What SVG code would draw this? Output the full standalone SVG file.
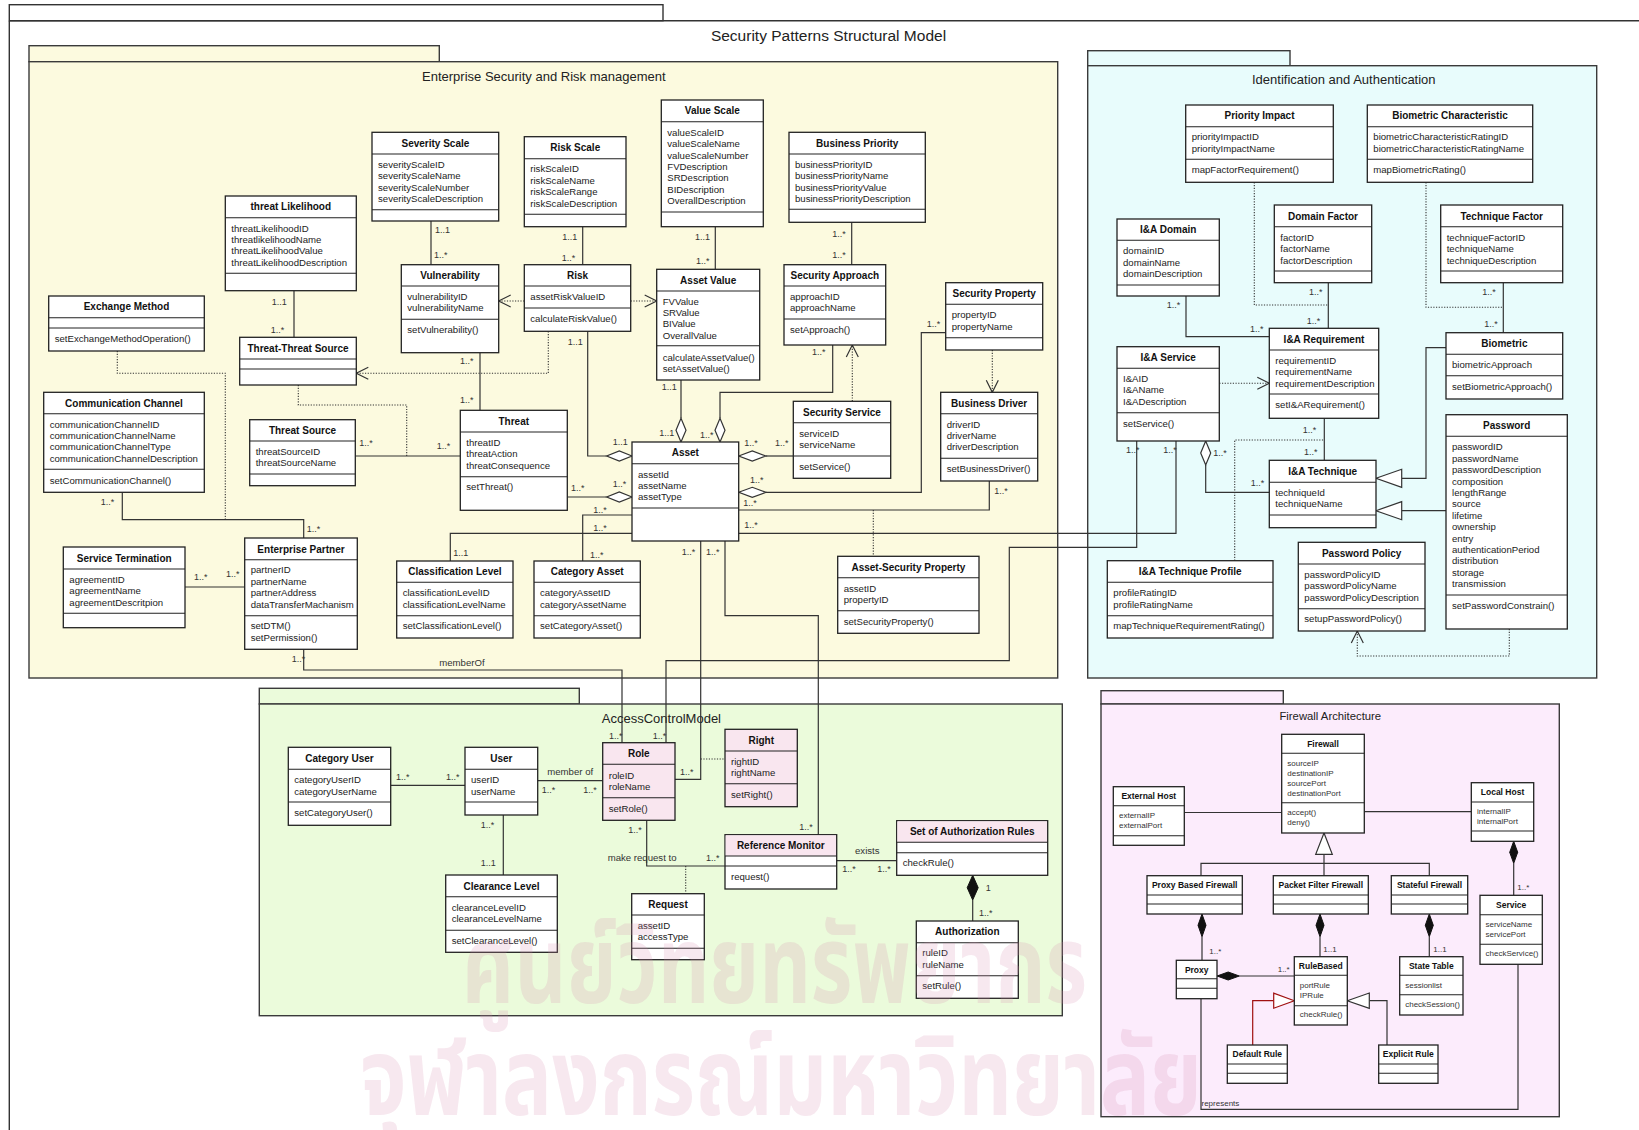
<svg xmlns="http://www.w3.org/2000/svg" width="1639" height="1130" viewBox="0 0 1639 1130">
<defs>
<style>
.frame{fill:none;stroke:#333;stroke-width:1.4}
.pkg{stroke:#3a3a3a;stroke-width:1.4}
.y{fill:#fcfadf}.cy{fill:#e8fcfc}.g{fill:#ebfbdb}.p{fill:#fcecfc}
.box{fill:#fff;stroke:#222;stroke-width:1.3}
.pk{fill:#f9e6ef}
.sep{fill:none;stroke:#222;stroke-width:1.1}
.title{font-family:"Liberation Sans",Arial,sans-serif;font-size:15.5px;fill:#222;text-anchor:middle}
.pt{font-family:"Liberation Sans",Arial,sans-serif;font-size:13px;fill:#222;text-anchor:middle}
.t{font-family:"Liberation Sans",Arial,sans-serif;font-size:10px;font-weight:bold;fill:#111;text-anchor:middle}
.a{font-family:"Liberation Sans",Arial,sans-serif;font-size:9.6px;fill:#222}
.m{font-family:"Liberation Sans",Arial,sans-serif;font-size:9px;fill:#333}
.ft{font-family:"Liberation Sans",Arial,sans-serif;font-size:8.5px;font-weight:bold;fill:#111;text-anchor:middle}
.fa{font-family:"Liberation Sans",Arial,sans-serif;font-size:8px;fill:#333}
.c{fill:none;stroke:#333;stroke-width:1.2}
.d{fill:none;stroke:#333;stroke-width:1.1;stroke-dasharray:1.2 1.5}
.hd{fill:#fff;stroke:#333;stroke-width:1.2}
.fd{fill:#111;stroke:#111;stroke-width:1}
.tri{fill:#fff;stroke:#333;stroke-width:1.2}
.red{fill:none;stroke:#a01010;stroke-width:1.2}
.tri.r{stroke:#a01010}
.wm{font-family:"Noto Sans Thai","Noto Sans","DejaVu Sans",sans-serif;font-size:108px;font-weight:bold;fill:#d88ab0;fill-opacity:0.2}
</style>
<marker id="open" markerUnits="userSpaceOnUse" markerWidth="14" markerHeight="14" refX="12" refY="6" orient="auto" overflow="visible">
<path d="M0 0L12 6L0 12" fill="none" stroke="#333" stroke-width="1.2"/>
</marker>
</defs>

<rect width="1639" height="1130" fill="#fff"/>

<!-- outer frame -->
<g id="model-frame">
<rect class="frame" x="9.3" y="4.7" width="653.7" height="16" fill="#fff"/>
<path class="frame" d="M9.3 20.7V1135M9.3 20.7H1645"/>
<text class="title" x="828.5" y="40.7">Security Patterns Structural Model</text>
</g>

<!-- packages -->
<g id="pkg-esrm">
<rect class="pkg y" x="29" y="45.7" width="410.3" height="16"/>
<rect class="pkg y" x="29" y="61.7" width="1028.7" height="616.3"/>
<text class="pt" x="543.8" y="80.7">Enterprise Security and Risk management</text>
</g>
<g id="pkg-ia">
<rect class="pkg cy" x="1087.7" y="50.7" width="202.3" height="15"/>
<rect class="pkg cy" x="1087.7" y="65.7" width="509" height="612.3"/>
<text class="pt" x="1343.8" y="84.4">Identification and Authentication</text>
</g>
<g id="pkg-ac">
<rect class="pkg g" x="259.3" y="688.3" width="320" height="15.7"/>
<rect class="pkg g" x="259.3" y="704" width="803" height="311.7"/>
<text class="pt" x="661.4" y="723.3">AccessControlModel</text>
</g>
<g id="pkg-fw">
<rect class="pkg p" x="1101" y="690.7" width="182.3" height="13.3"/>
<rect class="pkg p" x="1101" y="704" width="458.3" height="412.7"/>
<text class="pt" x="1330.3" y="720" style="font-size:11.3px">Firewall Architecture</text>
</g>

<!-- connectors -->
<g id="connectors">
<!-- enterprise security and risk management -->
<path class="c" d="M294 290.7V337.3"/>
<path class="c" d="M431 221V264.7"/>
<path class="c" d="M582.7 226.7V264.7"/>
<path class="c" d="M715.3 226.7V269.3"/>
<path class="c" d="M851.7 222.3V264.7"/>
<path class="d" d="M524.3 301H498.7" marker-end="url(#open)"/>
<path class="d" d="M630.7 301H656.7" marker-end="url(#open)"/>
<path class="d" d="M548.3 331.3V373.3H356.3" marker-end="url(#open)"/>
<path class="c" d="M587.7 331.3V456H606.7"/>
<polygon class="hd" points="632,456 619.3,451 606.7,456 619.3,461"/>
<path class="c" d="M480 352.7V410.3"/>
<path class="d" d="M298.3 385V405H406.7V456"/>
<path class="c" d="M355.3 456H460.3"/>
<path class="c" d="M567.3 497H606.7"/>
<polygon class="hd" points="632,497 619.3,492 606.7,497 619.3,502"/>
<path class="c" d="M681 380V418.3"/>
<polygon class="hd" points="681,442 676,430.2 681,418.3 686,430.2"/>
<path class="c" d="M832.7 345V392.3H720V418.3"/>
<polygon class="hd" points="720,442 715,430.2 720,418.3 725,430.2"/>
<path class="d" d="M852.3 401.3V345" marker-end="url(#open)"/>
<path class="c" d="M766 456H793.3"/>
<polygon class="hd" points="738.7,456 752.3,451 766,456 752.3,461"/>
<path class="c" d="M766 492.3H921.3V332.7H945.7"/>
<polygon class="hd" points="738.7,492.3 752.3,487.3 766,492.3 752.3,497.3"/>
<path class="c" d="M738.7 510H989.3V481"/>
<path class="d" d="M992.3 350V392.3" marker-end="url(#open)"/>
<path class="d" d="M873.3 510V556.3"/>
<path class="c" d="M738.7 533.3H1176V441"/>
<path class="c" d="M1136.7 441V547.3H1009.3V660.7H666V742.7"/>
<path class="c" d="M700.7 541V779.3H675"/>
<path class="c" d="M725 541V615.7H818.3V834.7"/>
<path class="d" d="M700.7 759H725"/>
<path class="c" d="M303.7 649.3V670H622V742.7"/>
<path class="c" d="M122.3 492.3V519.7H303.7V538"/>
<path class="d" d="M117.3 351V373.3H225.3V519.7"/>
<path class="c" d="M185 587H244.7"/>
<path class="c" d="M632 533.3H450.3V561"/>
<path class="c" d="M632 515H582.7V561"/>
<!-- access control -->
<path class="c" d="M390.7 785.3H465"/>
<path class="c" d="M537.7 780.7H602.7"/>
<path class="c" d="M503.3 815V875"/>
<path class="c" d="M646.7 820.3V866H725"/>
<path class="d" d="M685.7 866V893.7"/>
<path class="c" d="M836.7 860.7H896.7"/>
<path class="c" d="M972.7 900V921"/>
<polygon class="fd" points="972.7,875.3 967.2,887.7 972.7,900 978.2,887.7"/>
<!-- identification and authentication -->
<path class="d" d="M1254.3 182.3V305H1328.3"/>
<path class="d" d="M1426 182.3V307.3H1503.3"/>
<path class="c" d="M1328.3 282.7V328.3"/>
<path class="c" d="M1503.3 282.7V332.7"/>
<path class="c" d="M1186 296V336.7H1269.3"/>
<path class="d" d="M1219.3 383.3H1269.3" marker-end="url(#open)"/>
<path class="c" d="M1324.3 418.3V460.3"/>
<path class="d" d="M1234.7 560.7V440H1324.3"/>
<path class="c" d="M1205.7 465V492.3H1269.3"/>
<polygon class="hd" points="1205.7,441 1200.7,453 1205.7,465 1210.7,453"/>
<path class="c" d="M1446 347.7H1426V478.3H1401.7"/>
<polygon class="tri" points="1376,478.3 1401.7,469.3 1401.7,487.3"/>
<path class="c" d="M1446 510.7H1401.7"/>
<polygon class="tri" points="1376,510.7 1401.7,501.7 1401.7,519.7"/>
<path class="d" d="M1509.3 629V656H1357.3V631" marker-end="url(#open)"/>
<!-- firewall architecture -->
<path class="c" d="M1184.3 812.5H1281.7"/>
<path class="c" d="M1364.3 811.7H1471.3"/>
<polygon class="tri" points="1324,833 1315.7,854.3 1332.3,854.3"/>
<path class="c" d="M1324 854.3V875.7M1201 875.7V863.3H1429.3V875.7"/>
<path class="c" d="M1202 936.7V960.3"/>
<polygon class="fd" points="1202,914 1198,925.3 1202,936.7 1206,925.3"/>
<path class="c" d="M1320 936.7V956.7"/>
<polygon class="fd" points="1320,914 1316,925.3 1320,936.7 1324,925.3"/>
<path class="c" d="M1429.3 936.7V956.7"/>
<polygon class="fd" points="1429.3,914 1425.3,925.3 1429.3,936.7 1433.3,925.3"/>
<path class="c" d="M1239.3 976H1294.3"/>
<polygon class="fd" points="1217,976 1228.2,972 1239.3,976 1228.2,980"/>
<path class="c" d="M1513.7 863.3V895.3"/>
<polygon class="fd" points="1513.7,841.3 1509.7,852.3 1513.7,863.3 1517.7,852.3"/>
<path class="c" d="M1518 964.3V1109.3H1201V998.7"/>
<path class="red" d="M1252.7 1045V1000.7H1273.7"/>
<polygon class="tri r" points="1294.3,1000.7 1273.7,993.2 1273.7,1008.2"/>
<path class="c" d="M1387 1045V1000.7H1369.3"/>
<polygon class="tri" points="1347.3,1000.7 1369.3,993 1369.3,1008.4"/>

<!-- multiplicities and role names -->
<text class="m" x="271.7" y="305">1..1</text>
<text class="m" x="270.7" y="333">1..*</text>
<text class="m" x="435" y="233">1..1</text>
<text class="m" x="434" y="258">1..*</text>
<text class="m" x="562.3" y="239.7">1..1</text>
<text class="m" x="561.7" y="260.7">1..*</text>
<text class="m" x="695" y="239.7">1..1</text>
<text class="m" x="696" y="263.7">1..*</text>
<text class="m" x="832.3" y="237.3">1..*</text>
<text class="m" x="832.3" y="258">1..*</text>
<text class="m" x="567.7" y="345.3">1..1</text>
<text class="m" x="612.7" y="444.7">1..1</text>
<text class="m" x="460" y="364">1..*</text>
<text class="m" x="460" y="403">1..*</text>
<text class="m" x="359.3" y="446.3">1..*</text>
<text class="m" x="436.7" y="449">1..*</text>
<text class="m" x="571" y="491.3">1..*</text>
<text class="m" x="612.7" y="487">1..*</text>
<text class="m" x="661.7" y="390.3">1..1</text>
<text class="m" x="659.3" y="435.7">1..1</text>
<text class="m" x="812" y="355">1..*</text>
<text class="m" x="700" y="438">1..*</text>
<text class="m" x="744.3" y="446.3">1..*</text>
<text class="m" x="775" y="446.3">1..*</text>
<text class="m" x="750" y="483">1..*</text>
<text class="m" x="926.7" y="327">1..*</text>
<text class="m" x="743.3" y="505.7">1..*</text>
<text class="m" x="994.3" y="493.7">1..*</text>
<text class="m" x="744.3" y="528">1..*</text>
<text class="m" x="1163.3" y="453">1..*</text>
<text class="m" x="1126" y="453">1..*</text>
<text class="m" x="652.7" y="738.7">1..*</text>
<text class="m" x="681.7" y="554.7">1..*</text>
<text class="m" x="706" y="554.7">1..*</text>
<text class="m" x="680" y="774.7">1..*</text>
<text class="m" x="799.3" y="829.7">1..*</text>
<text class="m" x="291.7" y="661.7">1..*</text>
<text class="m" x="439.3" y="665.7" style="font-size:9.6px">memberOf</text>
<text class="m" x="609" y="738.7">1..*</text>
<text class="m" x="100.7" y="505">1..*</text>
<text class="m" x="306.7" y="532">1..*</text>
<text class="m" x="194" y="579.7">1..*</text>
<text class="m" x="226" y="577">1..*</text>
<text class="m" x="593.3" y="531.3">1..*</text>
<text class="m" x="453.3" y="555.7">1..1</text>
<text class="m" x="593.3" y="513">1..*</text>
<text class="m" x="590" y="558">1..*</text>
<text class="m" x="396" y="779.7">1..*</text>
<text class="m" x="446" y="779.7">1..*</text>
<text class="m" x="547.3" y="775.2" style="font-size:9.6px">member of</text>
<text class="m" x="541.7" y="793">1..*</text>
<text class="m" x="583.3" y="793">1..*</text>
<text class="m" x="480.7" y="828">1..*</text>
<text class="m" x="480.7" y="865.7">1..1</text>
<text class="m" x="628.3" y="833">1..*</text>
<text class="m" x="607.7" y="861" style="font-size:9.6px">make request to</text>
<text class="m" x="706" y="860.7">1..*</text>
<text class="m" x="855" y="854" style="font-size:9.6px">exists</text>
<text class="m" x="842.3" y="872.3">1..*</text>
<text class="m" x="877.3" y="872.3">1..*</text>
<text class="m" x="985.7" y="890.7">1</text>
<text class="m" x="979" y="916.3">1..*</text>
<text class="m" x="1309" y="295">1..*</text>
<text class="m" x="1306.7" y="324">1..*</text>
<text class="m" x="1482.3" y="295">1..*</text>
<text class="m" x="1484.3" y="327">1..*</text>
<text class="m" x="1166.7" y="308">1..*</text>
<text class="m" x="1250" y="332">1..*</text>
<text class="m" x="1302.7" y="433">1..*</text>
<text class="m" x="1304" y="454.7">1..*</text>
<text class="m" x="1213.3" y="456.3">1..*</text>
<text class="m" x="1250.7" y="486.3">1..*</text>
<text class="fa" x="1209.3" y="953.5">1..*</text>
<text class="fa" x="1323.3" y="951.8">1..1</text>
<text class="fa" x="1433.3" y="951.8">1..1</text>
<text class="fa" x="1277.7" y="971.5">1..*</text>
<text class="fa" x="1517.3" y="889.5">1..*</text>
<text class="fa" x="1201.5" y="1105.5">represents</text>
</g>

<!-- Enterprise Security and Risk management classes -->
<g id="threat-likelihood"><rect class="box" x="225.3" y="196" width="131" height="94.7"/><path class="sep" d="M225.3 217.7H356.3M225.3 273.3H356.3"/><text class="t" x="290.8" y="210.2">threat Likelihood</text><text class="a" x="231.3" y="232.1">threatLikelihoodID</text><text class="a" x="231.3" y="243.4">threatlikelihoodName</text><text class="a" x="231.3" y="254.1">threatLikelihoodValue</text><text class="a" x="231.3" y="266.1">threatLikelihoodDescription</text></g>
<g id="severity-scale"><rect class="box" x="372" y="132.3" width="126.7" height="88.7"/><path class="sep" d="M372 154H498.7M372 209.7H498.7"/><text class="t" x="435.4" y="146.5">Severity Scale</text><text class="a" x="378" y="167.7">severityScaleID</text><text class="a" x="378" y="179.1">severityScaleName</text><text class="a" x="378" y="190.7">severityScaleNumber</text><text class="a" x="378" y="202.1">severityScaleDescription</text></g>
<g id="risk-scale"><rect class="box" x="524.3" y="136.7" width="101.7" height="90"/><path class="sep" d="M524.3 158.7H626M524.3 214.3H626"/><text class="t" x="575.2" y="151.2">Risk Scale</text><text class="a" x="530.3" y="172.1">riskScaleID</text><text class="a" x="530.3" y="183.7">riskScaleName</text><text class="a" x="530.3" y="195.4">riskScaleRange</text><text class="a" x="530.3" y="207.1">riskScaleDescription</text></g>
<g id="value-scale"><rect class="box" x="661.3" y="100" width="102" height="126.7"/><path class="sep" d="M661.3 121.7H763.3M661.3 212H763.3"/><text class="t" x="712.3" y="114.2">Value Scale</text><text class="a" x="667.3" y="136.1">valueScaleID</text><text class="a" x="667.3" y="147.4">valueScaleName</text><text class="a" x="667.3" y="159.1">valueScaleNumber</text><text class="a" x="667.3" y="170.1">FVDescription</text><text class="a" x="667.3" y="181.4">SRDescription</text><text class="a" x="667.3" y="193.1">BIDescription</text><text class="a" x="667.3" y="204.1">OverallDescription</text></g>
<g id="business-priority"><rect class="box" x="789" y="132.3" width="136.3" height="90"/><path class="sep" d="M789 154H925.3M789 209.3H925.3"/><text class="t" x="857.2" y="146.5">Business Priority</text><text class="a" x="795" y="168.1">businessPriorityID</text><text class="a" x="795" y="179.4">businessPriorityName</text><text class="a" x="795" y="191.1">businessPriorityValue</text><text class="a" x="795" y="202.1">businessPriorityDescription</text></g>
<g id="exchange-method"><rect class="box" x="48.7" y="296" width="155.6" height="55"/><path class="sep" d="M48.7 317.7H204.3M48.7 328H204.3"/><text class="t" x="126.5" y="310.2">Exchange Method</text><text class="a" x="54.7" y="342.4">setExchangeMethodOperation()</text></g>
<g id="threat-threat-source"><rect class="box" x="239.7" y="337.3" width="116.6" height="47.7"/><path class="sep" d="M239.7 359H356.3M239.7 369H356.3"/><text class="t" x="298" y="351.5">Threat-Threat Source</text></g>
<g id="vulnerability"><rect class="box" x="401.3" y="264.7" width="97.4" height="88"/><path class="sep" d="M401.3 286H498.7M401.3 319.3H498.7"/><text class="t" x="450" y="278.5">Vulnerability</text><text class="a" x="407.3" y="300.1">vulnerabilityID</text><text class="a" x="407.3" y="311.1">vulnerabilityName</text><text class="a" x="407.3" y="333.1">setVulnerability()</text></g>
<g id="risk"><rect class="box" x="524.3" y="264.7" width="106.4" height="66.6"/><path class="sep" d="M524.3 286H630.7M524.3 308H630.7"/><text class="t" x="577.5" y="278.5">Risk</text><text class="a" x="530.3" y="300.1">assetRiskValueID</text><text class="a" x="530.3" y="322.4">calculateRiskValue()</text></g>
<g id="asset-value"><rect class="box" x="656.7" y="269.3" width="103" height="110.7"/><path class="sep" d="M656.7 291H759.7M656.7 345.7H759.7"/><text class="t" x="708.2" y="283.5">Asset Value</text><text class="a" x="662.7" y="305.1">FVValue</text><text class="a" x="662.7" y="316.4">SRValue</text><text class="a" x="662.7" y="327.4">BIValue</text><text class="a" x="662.7" y="338.7">OverallValue</text><text class="a" x="662.7" y="360.7">calculateAssetValue()</text><text class="a" x="662.7" y="372.1">setAssetValue()</text></g>
<g id="security-approach"><rect class="box" x="784" y="264.7" width="101.7" height="80.3"/><path class="sep" d="M784 286H885.7M784 319H885.7"/><text class="t" x="834.8" y="278.5">Security Approach</text><text class="a" x="790" y="300.1">approachID</text><text class="a" x="790" y="311.1">approachName</text><text class="a" x="790" y="333.1">setApproach()</text></g>
<g id="security-property"><rect class="box" x="945.7" y="282.7" width="97" height="67.3"/><path class="sep" d="M945.7 304.3H1042.7M945.7 337.7H1042.7"/><text class="t" x="994.2" y="297.2">Security Property</text><text class="a" x="951.7" y="318.4">propertyID</text><text class="a" x="951.7" y="330.4">propertyName</text></g>
<g id="communication-channel"><rect class="box" x="43.7" y="392.3" width="160.6" height="100"/><path class="sep" d="M43.7 413.7H204.3M43.7 469.3H204.3"/><text class="t" x="124" y="406.5">Communication Channel</text><text class="a" x="49.7" y="428.1">communicationChannelID</text><text class="a" x="49.7" y="439.1">communicationChannelName</text><text class="a" x="49.7" y="450.4">communicationChannelType</text><text class="a" x="49.7" y="462.1">communicationChannelDescription</text><text class="a" x="49.7" y="484.1">setCommunicationChannel()</text></g>
<g id="threat-source"><rect class="box" x="249.7" y="419.7" width="105.6" height="66"/><path class="sep" d="M249.7 441H355.3M249.7 474H355.3"/><text class="t" x="302.5" y="433.5">Threat Source</text><text class="a" x="255.7" y="455.1">threatSourceID</text><text class="a" x="255.7" y="466.1">threatSourceName</text></g>
<g id="threat"><rect class="box" x="460.3" y="410.3" width="107" height="100"/><path class="sep" d="M460.3 432H567.3M460.3 476.7H567.3"/><text class="t" x="513.8" y="424.5">Threat</text><text class="a" x="466.3" y="446.1">threatID</text><text class="a" x="466.3" y="457.4">threatAction</text><text class="a" x="466.3" y="469.4">threatConsequence</text><text class="a" x="466.3" y="490.1">setThreat()</text></g>
<g id="asset"><rect class="box" x="632" y="442" width="106.7" height="99"/><path class="sep" d="M632 463.7H738.7M632 508H738.7"/><text class="t" x="685.3" y="456.2">Asset</text><text class="a" x="638" y="478.1">assetId</text><text class="a" x="638" y="489.1">assetName</text><text class="a" x="638" y="500.4">assetType</text></g>
<g id="security-service"><rect class="box" x="793.3" y="401.3" width="97.4" height="77"/><path class="sep" d="M793.3 422.7H890.7M793.3 456H890.7"/><text class="t" x="842" y="415.5">Security Service</text><text class="a" x="799.3" y="436.7">serviceID</text><text class="a" x="799.3" y="448.4">serviceName</text><text class="a" x="799.3" y="470.4">setService()</text></g>
<g id="business-driver"><rect class="box" x="940.7" y="392.3" width="97" height="88.7"/><path class="sep" d="M940.7 413.7H1037.7M940.7 458.3H1037.7"/><text class="t" x="989.2" y="406.5">Business Driver</text><text class="a" x="946.7" y="427.7">driverID</text><text class="a" x="946.7" y="439.1">driverName</text><text class="a" x="946.7" y="450.1">driverDescription</text><text class="a" x="946.7" y="472.4">setBusinessDriver()</text></g>
<g id="service-termination"><rect class="box" x="63.3" y="547" width="121.7" height="80.7"/><path class="sep" d="M63.3 569H185M63.3 613.3H185"/><text class="t" x="124.2" y="561.5">Service Termination</text><text class="a" x="69.3" y="583.4">agreementID</text><text class="a" x="69.3" y="594.4">agreementName</text><text class="a" x="69.3" y="605.7">agreementDescritpion</text></g>
<g id="enterprise-partner"><rect class="box" x="244.7" y="538" width="112.6" height="111.3"/><path class="sep" d="M244.7 559.7H357.3M244.7 615.7H357.3"/><text class="t" x="301" y="552.5">Enterprise Partner</text><text class="a" x="250.7" y="573.4">partnerID</text><text class="a" x="250.7" y="585.4">partnerName</text><text class="a" x="250.7" y="596.4">partnerAddress</text><text class="a" x="250.7" y="608.1">dataTransferMachanism</text><text class="a" x="250.7" y="629.4">setDTM()</text><text class="a" x="250.7" y="641.1">setPermission()</text></g>
<g id="classification-level"><rect class="box" x="396.7" y="561" width="116.3" height="77"/><path class="sep" d="M396.7 582.3H513M396.7 615.7H513"/><text class="t" x="454.9" y="575.2">Classification Level</text><text class="a" x="402.7" y="596.1">classificationLevelID</text><text class="a" x="402.7" y="608.1">classificationLevelName</text><text class="a" x="402.7" y="629.4">setClassificationLevel()</text></g>
<g id="category-asset"><rect class="box" x="534" y="561" width="106.3" height="77"/><path class="sep" d="M534 582.3H640.3M534 615.7H640.3"/><text class="t" x="587.2" y="575.2">Category Asset</text><text class="a" x="540" y="596.1">categoryAssetID</text><text class="a" x="540" y="608.1">categoryAssetName</text><text class="a" x="540" y="629.4">setCategoryAsset()</text></g>
<g id="asset-security-property"><rect class="box" x="837.7" y="556.3" width="141.3" height="77"/><path class="sep" d="M837.7 577.7H979M837.7 610.7H979"/><text class="t" x="908.4" y="570.5">Asset-Security Property</text><text class="a" x="843.7" y="592.1">assetID</text><text class="a" x="843.7" y="603.4">propertyID</text><text class="a" x="843.7" y="625.4">setSecurityProperty()</text></g>

<!-- Identification and Authentication classes -->
<g id="priority-impact"><rect class="box" x="1185.7" y="105" width="147.6" height="77.3"/><path class="sep" d="M1185.7 126.7H1333.3M1185.7 159.3H1333.3"/><text class="t" x="1259.5" y="119.2">Priority Impact</text><text class="a" x="1191.7" y="140.1">priorityImpactID</text><text class="a" x="1191.7" y="152.4">priorityImpactName</text><text class="a" x="1191.7" y="173.4">mapFactorRequirement()</text></g>
<g id="biometric-characteristic"><rect class="box" x="1367.3" y="105" width="165.4" height="77.3"/><path class="sep" d="M1367.3 126.7H1532.7M1367.3 159.3H1532.7"/><text class="t" x="1450" y="119.2">Biometric Characteristic</text><text class="a" x="1373.3" y="140.1">biometricCharacteristicRatingID</text><text class="a" x="1373.3" y="152.4">biometricCharacteristicRatingName</text><text class="a" x="1373.3" y="173.4">mapBiometricRating()</text></g>
<g id="ia-domain"><rect class="box" x="1117" y="219" width="102.3" height="77"/><path class="sep" d="M1117 240.3H1219.3M1117 285H1219.3"/><text class="t" x="1168.2" y="233.2">I&amp;A Domain</text><text class="a" x="1123" y="254.1">domainID</text><text class="a" x="1123" y="266.1">domainName</text><text class="a" x="1123" y="277.4">domainDescription</text></g>
<g id="domain-factor"><rect class="box" x="1274.3" y="205" width="97.4" height="77.7"/><path class="sep" d="M1274.3 226.7H1371.7M1274.3 271H1371.7"/><text class="t" x="1323" y="219.5">Domain Factor</text><text class="a" x="1280.3" y="241.1">factorID</text><text class="a" x="1280.3" y="252.1">factorName</text><text class="a" x="1280.3" y="264.1">factorDescription</text></g>
<g id="technique-factor"><rect class="box" x="1440.7" y="205" width="122" height="77.7"/><path class="sep" d="M1440.7 226.7H1562.7M1440.7 271H1562.7"/><text class="t" x="1501.7" y="219.5">Technique Factor</text><text class="a" x="1446.7" y="241.1">techniqueFactorID</text><text class="a" x="1446.7" y="252.1">techniqueName</text><text class="a" x="1446.7" y="264.1">techniqueDescription</text></g>
<g id="ia-service"><rect class="box" x="1117" y="346.7" width="102.3" height="94.3"/><path class="sep" d="M1117 368.3H1219.3M1117 412.7H1219.3"/><text class="t" x="1168.2" y="360.5">I&amp;A Service</text><text class="a" x="1123" y="381.7">I&amp;AID</text><text class="a" x="1123" y="393.4">I&amp;AName</text><text class="a" x="1123" y="405.1">I&amp;ADescription</text><text class="a" x="1123" y="427.4">setService()</text></g>
<g id="ia-requirement"><rect class="box" x="1269.3" y="328.3" width="109.4" height="90"/><path class="sep" d="M1269.3 350H1378.7M1269.3 394H1378.7"/><text class="t" x="1324" y="342.5">I&amp;A Requirement</text><text class="a" x="1275.3" y="364.1">requirementID</text><text class="a" x="1275.3" y="375.1">requirementName</text><text class="a" x="1275.3" y="387.1">requirementDescription</text><text class="a" x="1275.3" y="408.1">setI&amp;ARequirement()</text></g>
<g id="biometric"><rect class="box" x="1446" y="332.7" width="116.7" height="66.3"/><path class="sep" d="M1446 354.3H1562.7M1446 375.7H1562.7"/><text class="t" x="1504.4" y="347">Biometric</text><text class="a" x="1452" y="368.4">biometricApproach</text><text class="a" x="1452" y="390.1">setBiometricApproach()</text></g>
<g id="ia-technique"><rect class="box" x="1269.3" y="460.3" width="106.7" height="67.4"/><path class="sep" d="M1269.3 482.3H1376M1269.3 515H1376"/><text class="t" x="1322.7" y="474.5">I&amp;A Technique</text><text class="a" x="1275.3" y="496.1">techniqueId</text><text class="a" x="1275.3" y="507.4">techniqueName</text></g>
<g id="password"><rect class="box" x="1446" y="414.7" width="121.3" height="214.3"/><path class="sep" d="M1446 436.3H1567.3M1446 595H1567.3"/><text class="t" x="1506.7" y="429.2">Password</text><text class="a" x="1452" y="450.1">passwordID</text><text class="a" x="1452" y="462.1">passwordName</text><text class="a" x="1452" y="473.4">passwordDescription</text><text class="a" x="1452" y="485.1">composition</text><text class="a" x="1452" y="496.4">lengthRange</text><text class="a" x="1452" y="507.4">source</text><text class="a" x="1452" y="519.1">lifetime</text><text class="a" x="1452" y="530.4">ownership</text><text class="a" x="1452" y="542.4">entry</text><text class="a" x="1452" y="553.4">authenticationPeriod</text><text class="a" x="1452" y="564.4">distribution</text><text class="a" x="1452" y="576.4">storage</text><text class="a" x="1452" y="587.4">transmission</text><text class="a" x="1452" y="609.4">setPasswordConstrain()</text></g>
<g id="ia-technique-profile"><rect class="box" x="1107.3" y="560.7" width="165.7" height="77.3"/><path class="sep" d="M1107.3 582.3H1273M1107.3 615.7H1273"/><text class="t" x="1190.2" y="575.2">I&amp;A Technique Profile</text><text class="a" x="1113.3" y="596.1">profileRatingID</text><text class="a" x="1113.3" y="608.1">profileRatingName</text><text class="a" x="1113.3" y="629.4">mapTechniqueRequirementRating()</text></g>
<g id="password-policy"><rect class="box" x="1298.3" y="542.3" width="126.7" height="88.7"/><path class="sep" d="M1298.3 564H1425M1298.3 608.7H1425"/><text class="t" x="1361.7" y="556.5">Password Policy</text><text class="a" x="1304.3" y="578.1">passwordPolicyID</text><text class="a" x="1304.3" y="589.4">passwordPolicyName</text><text class="a" x="1304.3" y="601.1">passwordPolicyDescription</text><text class="a" x="1304.3" y="622.1">setupPasswordPolicy()</text></g>

<!-- Access control classes -->
<g id="category-user"><rect class="box" x="288.3" y="747.3" width="102.4" height="78"/><path class="sep" d="M288.3 769.3H390.7M288.3 802H390.7"/><text class="t" x="339.5" y="762.2">Category User</text><text class="a" x="294.3" y="783.1">categoryUserID</text><text class="a" x="294.3" y="795.1">categoryUserName</text><text class="a" x="294.3" y="816.1">setCategoryUser()</text></g>
<g id="user"><rect class="box" x="465" y="747.3" width="72.7" height="67.7"/><path class="sep" d="M465 769.3H537.7M465 802H537.7"/><text class="t" x="501.3" y="762.2">User</text><text class="a" x="471" y="783.4">userID</text><text class="a" x="471" y="795.1">userName</text></g>
<g id="role"><rect class="box pk" x="602.7" y="742.7" width="72.3" height="77.6"/><path class="sep" d="M602.7 764.3H675M602.7 797.7H675"/><text class="t" x="638.8" y="757.2">Role</text><text class="a" x="608.7" y="779.1">roleID</text><text class="a" x="608.7" y="790.1">roleName</text><text class="a" x="608.7" y="812.4">setRole()</text></g>
<g id="right"><rect class="box pk" x="725" y="729.3" width="72.3" height="77.4"/><path class="sep" d="M725 751H797.3M725 783.7H797.3"/><text class="t" x="761.2" y="743.8">Right</text><text class="a" x="731" y="765.1">rightID</text><text class="a" x="731" y="776.1">rightName</text><text class="a" x="731" y="798.4">setRight()</text></g>
<g id="reference-monitor"><rect class="box" x="725" y="834.7" width="111.7" height="54.3"/><rect class="pk" x="725.7" y="835.3" width="110.3" height="20.7"/><path class="sep" d="M725 856H836.7M725 866H836.7"/><text class="t" x="780.8" y="848.5">Reference Monitor</text><text class="a" x="731" y="880.1">request()</text></g>
<g id="clearance-level"><rect class="box" x="445.7" y="875" width="111.6" height="77.3"/><path class="sep" d="M445.7 896.7H557.3M445.7 930.3H557.3"/><text class="t" x="501.5" y="889.5">Clearance Level</text><text class="a" x="451.7" y="911.1">clearanceLevelID</text><text class="a" x="451.7" y="922.1">clearanceLevelName</text><text class="a" x="451.7" y="944.1">setClearanceLevel()</text></g>
<g id="request"><rect class="box" x="631.7" y="893.7" width="72.6" height="66"/><path class="sep" d="M631.7 915H704.3M631.7 948.3H704.3"/><text class="t" x="668" y="907.5">Request</text><text class="a" x="637.7" y="929.1">assetID</text><text class="a" x="637.7" y="940.4">accessType</text></g>
<g id="set-of-authorization-rules"><rect class="box" x="896.7" y="820.7" width="151" height="54.6"/><rect class="pk" x="897.4" y="821.3" width="149.6" height="21"/><path class="sep" d="M896.7 842.3H1047.7M896.7 852.7H1047.7"/><text class="t" x="972.2" y="834.5">Set of Authorization Rules</text><text class="a" x="902.7" y="866.4">checkRule()</text></g>
<g id="authorization"><rect class="box" x="916.3" y="921" width="102" height="77.3"/><path class="sep" d="M916.3 942.7H1018.3M916.3 975.7H1018.3"/><text class="t" x="967.3" y="935.2">Authorization</text><text class="a" x="922.3" y="956.1">ruleID</text><text class="a" x="922.3" y="968.1">ruleName</text><text class="a" x="922.3" y="989.4">setRule()</text></g>

<!-- Firewall architecture classes -->
<g id="firewall"><rect class="box" x="1281.7" y="734.3" width="82.6" height="98.7"/><path class="sep" d="M1281.7 753.3H1364.3M1281.7 802.7H1364.3"/><text class="ft" x="1323" y="747">Firewall</text><text class="fa" x="1287.3" y="766.1">sourceIP</text><text class="fa" x="1287.3" y="776.1">destinationIP</text><text class="fa" x="1287.3" y="786.1">sourcePort</text><text class="fa" x="1287.3" y="795.8">destinationPort</text><text class="fa" x="1287.3" y="814.8">accept()</text><text class="fa" x="1287.3" y="825.1">deny()</text></g>
<g id="external-host"><rect class="box" x="1113.3" y="786.7" width="71" height="58.6"/><path class="sep" d="M1113.3 805.7H1184.3M1113.3 835.7H1184.3"/><text class="ft" x="1148.8" y="799">External Host</text><text class="fa" x="1119" y="817.8">externalIP</text><text class="fa" x="1119" y="827.8">externalPort</text></g>
<g id="local-host"><rect class="box" x="1471.3" y="782.7" width="62.4" height="58.6"/><path class="sep" d="M1471.3 802H1533.7M1471.3 831H1533.7"/><text class="ft" x="1502.5" y="795">Local Host</text><text class="fa" x="1477" y="813.8">internalIP</text><text class="fa" x="1477" y="823.8">internalPort</text></g>
<g id="proxy-based-firewall"><rect class="box" x="1147" y="875.7" width="95.3" height="38.3"/><path class="sep" d="M1147 895H1242.3M1147 904H1242.3"/><text class="ft" x="1194.7" y="888.3">Proxy Based Firewall</text></g>
<g id="packet-filter-firewall"><rect class="box" x="1273.3" y="875.7" width="95" height="38.3"/><path class="sep" d="M1273.3 895H1368.3M1273.3 904H1368.3"/><text class="ft" x="1320.8" y="888.3">Packet Filter Firewall</text></g>
<g id="stateful-firewall"><rect class="box" x="1391.3" y="875.7" width="76.4" height="38.3"/><path class="sep" d="M1391.3 895H1467.7M1391.3 904H1467.7"/><text class="ft" x="1429.5" y="888.3">Stateful Firewall</text></g>
<g id="service"><rect class="box" x="1480" y="895.3" width="62.3" height="69"/><path class="sep" d="M1480 914.7H1542.3M1480 944.3H1542.3"/><text class="ft" x="1511.2" y="908">Service</text><text class="fa" x="1485.5" y="926.8">serviceName</text><text class="fa" x="1485.5" y="936.8">servicePort</text><text class="fa" x="1485.5" y="955.8">checkService()</text></g>
<g id="proxy"><rect class="box" x="1176.3" y="960.3" width="40.7" height="38.4"/><path class="sep" d="M1176.3 978.7H1217M1176.3 988.3H1217"/><text class="ft" x="1196.7" y="973">Proxy</text></g>
<g id="rule-based"><rect class="box" x="1294.3" y="956.7" width="53" height="68.3"/><path class="sep" d="M1294.3 975.3H1347.3M1294.3 1005.7H1347.3"/><text class="ft" x="1320.8" y="969">RuleBased</text><text class="fa" x="1299.8" y="987.8">portRule</text><text class="fa" x="1299.8" y="997.8">IPRule</text><text class="fa" x="1299.8" y="1016.8">checkRule()</text></g>
<g id="state-table"><rect class="box" x="1399.7" y="956.7" width="63.3" height="58.3"/><path class="sep" d="M1399.7 975.3H1463M1399.7 994.7H1463"/><text class="ft" x="1431.3" y="969">State Table</text><text class="fa" x="1405.2" y="987.8">sessionlist</text><text class="fa" x="1405.2" y="1006.8">checkSession()</text></g>
<g id="default-rule"><rect class="box" x="1227.3" y="1045" width="60" height="38.3"/><path class="sep" d="M1227.3 1064H1287.3M1227.3 1073.3H1287.3"/><text class="ft" x="1257.3" y="1057">Default Rule</text></g>
<g id="explicit-rule"><rect class="box" x="1378.7" y="1045" width="59.3" height="38.3"/><path class="sep" d="M1378.7 1064H1438M1378.7 1073.3H1438"/><text class="ft" x="1408.3" y="1057">Explicit Rule</text></g>

<!-- watermark -->
<g id="watermark">
<text class="wm" x="462" y="1003" textLength="625" lengthAdjust="spacingAndGlyphs">ศูนย์วิทยทรัพยากร</text>
<text class="wm" x="360" y="1115" textLength="842" lengthAdjust="spacingAndGlyphs">จุฬาลงกรณ์มหาวิทยาลัย</text>
</g>
</svg>
